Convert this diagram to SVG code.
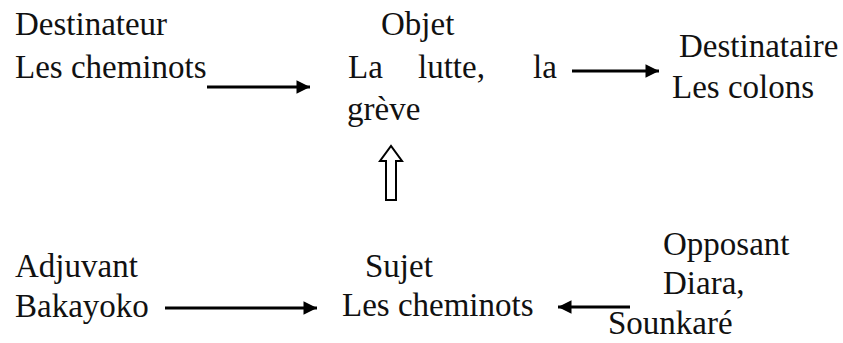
<svg xmlns="http://www.w3.org/2000/svg" width="843" height="343" viewBox="0 0 843 343">
  <style>
    text { font-family: "Liberation Serif", "DejaVu Serif", serif; font-size: 33px; fill: #111; }
    .link { stroke: #000; stroke-width: 3; fill: none; }
    .hollow { stroke: #000; stroke-width: 2; fill: #fff; }
  </style>
  <defs>
    <marker id="head" viewBox="0 0 10 10" refX="10" refY="5" markerWidth="5" markerHeight="4.5" markerUnits="strokeWidth" orient="auto">
      <path d="M0,0 L10,5 L0,10 z" fill="#000"/>
    </marker>
  </defs>
  <rect width="843" height="343" fill="#fff"/>

  <g id="destinateur">
    <text x="15" y="35">Destinateur</text>
    <text x="15" y="78">Les cheminots</text>
  </g>
  <g id="objet">
    <text x="381" y="35">Objet</text>
    <text y="78"><tspan x="348">La</tspan><tspan x="418">lutte,</tspan><tspan x="533">la</tspan></text>
    <text x="347" y="120">grève</text>
  </g>
  <g id="destinataire">
    <text x="679" y="57">Destinataire</text>
    <text x="672" y="98">Les colons</text>
  </g>
  <g id="adjuvant">
    <text x="15" y="277">Adjuvant</text>
    <text x="15" y="317">Bakayoko</text>
  </g>
  <g id="sujet">
    <text x="365" y="277">Sujet</text>
    <text x="342" y="316">Les cheminots</text>
  </g>
  <g id="opposant">
    <text x="663" y="255">Opposant</text>
    <text x="663" y="294">Diara,</text>
    <text x="608" y="334">Sounkaré</text>
  </g>

  <g id="connectors">
    <line class="link" x1="207" y1="87" x2="310" y2="87" marker-end="url(#head)"/>
    <line class="link" x1="572" y1="71" x2="659" y2="71" marker-end="url(#head)"/>
    <line class="link" x1="165" y1="308" x2="317" y2="308" marker-end="url(#head)"/>
    <line class="link" x1="630" y1="307" x2="558" y2="307" marker-end="url(#head)"/>
    <path class="hollow" d="M386,200 L386,161 L380,161 L391,146 L402,161 L396,161 L396,200 Z"/>
  </g>
</svg>
